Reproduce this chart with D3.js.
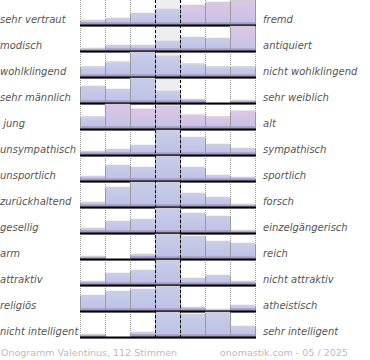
<!DOCTYPE html>
<html><head><meta charset="utf-8">
<script src="https://cdn.jsdelivr.net/npm/d3@7"></script>
<style>body{margin:0;background:#fff}svg{display:block}</style>
</head><body>
<script>
const leftLabels = ["sehr vertraut","modisch","wohlklingend","sehr männlich"," jung","unsympathisch","unsportlich","zurückhaltend","gesellig","arm","attraktiv","religiös","nicht intelligent"];
const rightLabels = ["fremd","antiquiert","nicht wohlklingend","sehr weiblich","alt","sympathisch","sportlich","forsch","einzelgängerisch","reich","nicht attraktiv","atheistisch","sehr intelligent"];
const scaleSteps = [1,2,3,4,5,6,7];
const values = [
  [4, 6, 11, 15, 19, 22, 24],
  [2, 5, 5, 9, 13, 12, 24],
  [10, 15, 25, 21, 13, 10, 10],
  [16, 13, 24, 11, 3, 0, 2],
  [12, 25, 20, 23, 14, 12, 18],
  [3, 5, 9, 24, 17, 10, 6],
  [4, 15, 13, 24, 13, 5, 3],
  [4, 19, 24, 24, 13, 9, 2],
  [4, 11, 13, 24, 19, 16, 2],
  [2, 0, 4, 24, 22, 17, 15],
  [3, 11, 14, 24, 6, 9, 3],
  [15, 19, 21, 24, 3, 1, 5],
  [2, 0, 4, 24, 22, 24, 10]
];
// bars shown with a pinkish tint in the reference
const tinted = [[4,5,6],[6],[],[],[1,2,3,4,5,6],[],[],[],[],[],[],[],[]];
const footerLeft = "Onogramm Valentinus, 112 Stimmen";
const footerRight = "onomastik.com - 05 / 2025";

const W = 370, H = 360;
const svg = d3.select("body").append("svg").attr("width", W).attr("height", H);
const defs = svg.append("defs");
function grad(id, stops){
  const g = defs.append("linearGradient").attr("id", id).attr("x1",0).attr("y1",0).attr("x2",0).attr("y2",1);
  stops.forEach(s => g.append("stop").attr("offset", s[0]).attr("stop-color", s[1]));
}
grad("gBlue", [["0%","#c8cdea"],["100%","#bcc0e3"]]);
grad("gPink", [["0%","#ddc6e6"],["100%","#c2c2e5"]]);
grad("gBottom", [["0%","#b4acd8"],["100%","#9686bf"]]);

const x = d3.scaleBand().domain(d3.range(7)).range([80, 255]);
const y = d3.scaleBand().domain(d3.range(values.length)).range([0, 26*values.length]);
const plotBottom = y.range()[1];
const barMax = 24;

// center column background
svg.append("rect").attr("x", x(3)).attr("y", 0).attr("width", x.bandwidth()).attr("height", plotBottom)
  .attr("fill", "#eeeeee");

// grid lines
const gridX = [0,1,2,5,6,7].map(i => x.range()[0] + i*x.step());
svg.append("g").selectAll("line").data(gridX).join("line")
  .attr("x1", d => d + 0.5).attr("x2", d => d + 0.5).attr("y1", 0).attr("y2", plotBottom)
  .attr("stroke", "#999").attr("stroke-dasharray", "1,1");

const rows = svg.append("g").selectAll("g").data(values).join("g")
  .attr("transform", (d,i) => `translate(0,${y(i) + 25})`);

rows.each(function(row, ri){
  const g = d3.select(this);
  const h = d3.scaleLinear().domain([0, d3.max(row)]).range([0, barMax]);
  const bars = row.map((v,i) => ({v, i, hh: h(v), pink: tinted[ri].includes(i)})).filter(d => d.v > 0);
  g.selectAll("rect.bar").data(bars).join("rect").attr("class","bar")
    .attr("x", d => x(d.i)).attr("y", d => -d.hh).attr("width", x.bandwidth()).attr("height", d => d.hh)
    .attr("fill", d => d.pink ? "url(#gPink)" : "url(#gBlue)");
  g.selectAll("rect.bot").data(bars).join("rect").attr("class","bot")
    .attr("x", d => x(d.i)).attr("y", d => -Math.min(3, d.hh)).attr("width", x.bandwidth()).attr("height", d => Math.min(3, d.hh))
    .attr("fill", "url(#gBottom)");
  g.selectAll("line.top").data(bars).join("line").attr("class","top")
    .attr("x1", d => x(d.i)).attr("x2", d => x(d.i) + x.bandwidth())
    .attr("y1", d => -d.hh - 0.5).attr("y2", d => -d.hh - 0.5)
    .attr("stroke", "#cfcfcf").attr("stroke-width", 1.5);
  g.selectAll("path.side").data(bars).join("path").attr("class","side")
    .attr("d", d => `M${x(d.i)+0.5},0V${-d.hh}M${x(d.i)+x.bandwidth()+0.5},0V${-d.hh}`)
    .attr("stroke", "#9a9a9a").attr("fill", "none");
  g.append("line").attr("x1", 80).attr("x2", 256).attr("y1", 1.5).attr("y2", 1.5)
    .attr("stroke", "#cccccc").attr("stroke-width", 1);
  g.append("line").attr("x1", 80).attr("x2", 256).attr("y1", 0.5).attr("y2", 0.5)
    .attr("stroke", "#000").attr("stroke-width", 2);
});

// center dashed lines
svg.append("g").selectAll("line").data([3,4]).join("line")
  .attr("x1", d => x(d) + 0.5).attr("x2", d => x(d) + 0.5).attr("y1", 0).attr("y2", plotBottom)
  .attr("stroke", "#000").attr("stroke-dasharray", "3,2");

// labels
const font = "DejaVu Sans, Verdana, sans-serif";
svg.append("g").selectAll("text").data(leftLabels).join("text")
  .attr("x", 0).attr("y", (d,i) => y(i) + 23)
  .attr("font-family", font).attr("font-size", 10).attr("font-style", "italic")
  .attr("fill", "#555").style("white-space", "pre").text(d => d);
svg.append("g").selectAll("text").data(rightLabels).join("text")
  .attr("x", 263).attr("y", (d,i) => y(i) + 23)
  .attr("font-family", font).attr("font-size", 10).attr("font-style", "italic")
  .attr("fill", "#555").text(d => d);

svg.append("text").attr("x", 1).attr("y", 356).attr("font-family", font).attr("font-size", 9.5)
  .attr("fill", "#bbb").text(footerLeft);
svg.append("text").attr("x", 220).attr("y", 356).attr("font-family", font).attr("font-size", 9.5)
  .attr("fill", "#bbb").text(footerRight);
</script>
</body></html>
